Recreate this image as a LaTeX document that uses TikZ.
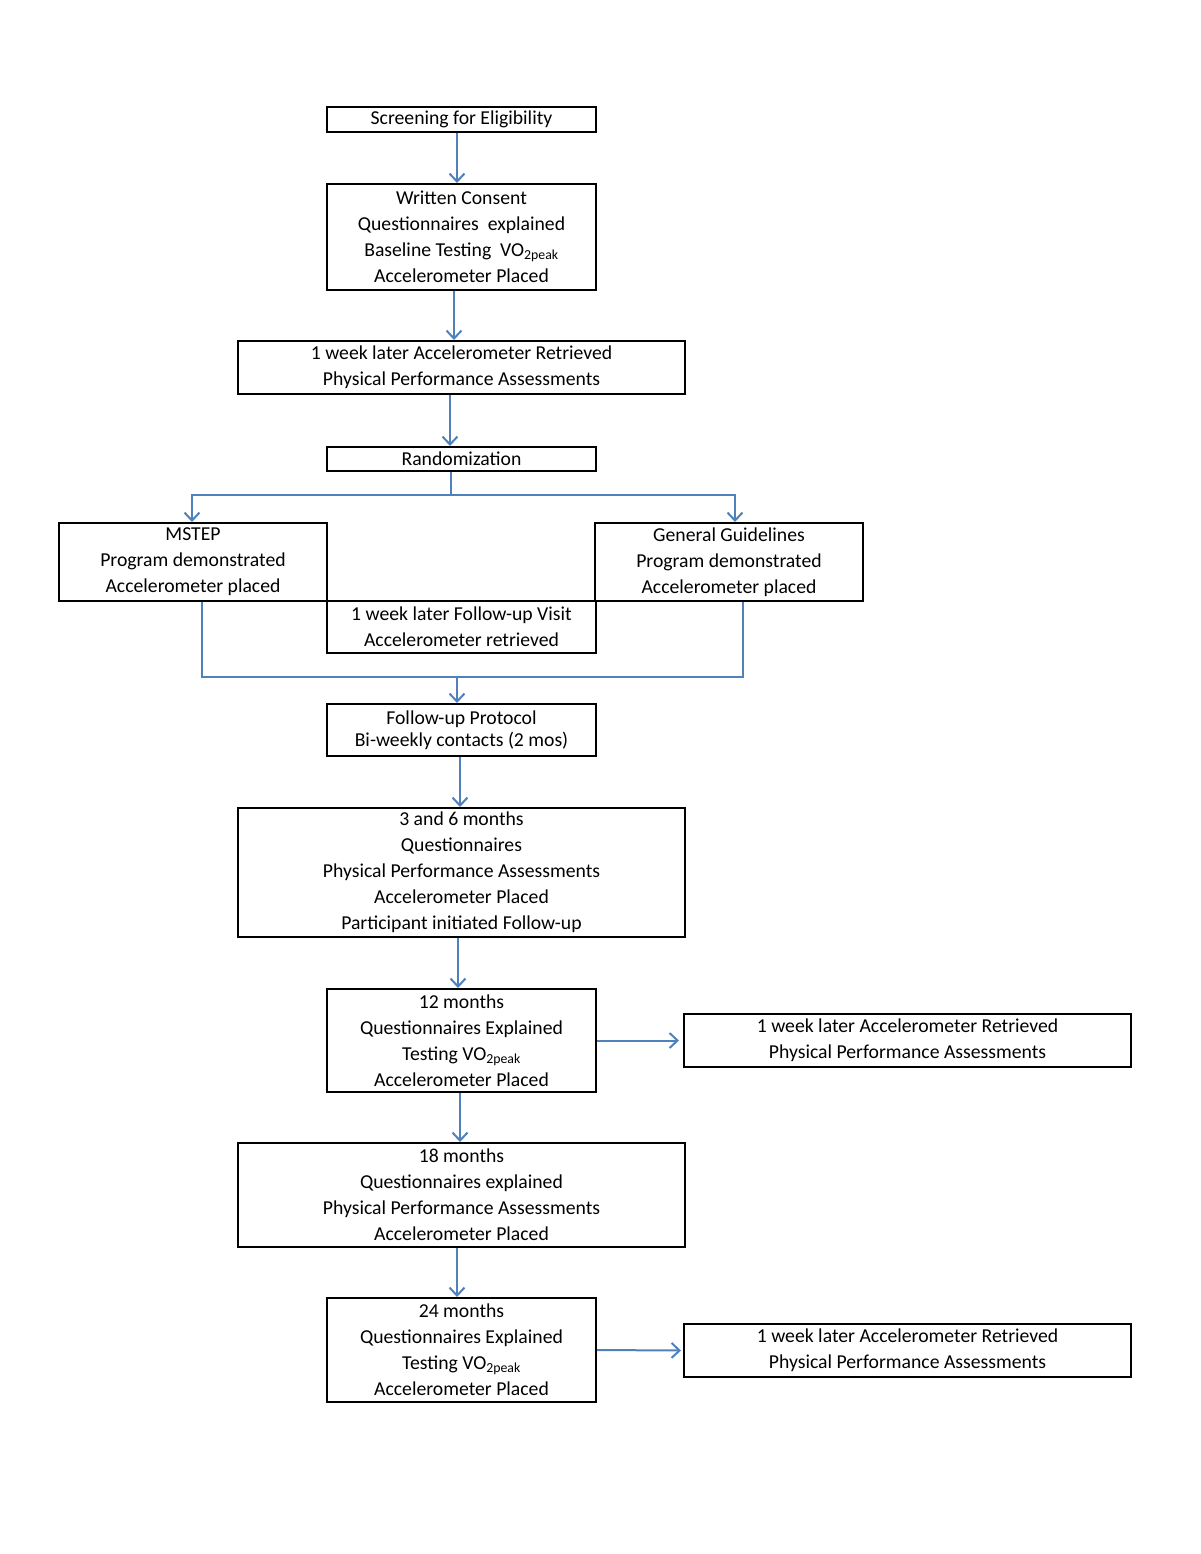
\documentclass[tikz,border=0pt]{standalone}
\usepackage{fontspec}
\setmainfont{Carlito}
\usetikzlibrary{arrows.meta}
\definecolor{arrblue}{HTML}{4F81BD}
\tikzset{
  box/.style={draw=black, line width=2pt, rectangle, inner sep=0pt, align=center,
    font=\fontsize{19.7}{26}\selectfont},
  arr/.style={draw=arrblue, line width=2pt, -{Straight Barb[length=8pt,width=15pt,line width=2pt]}},
  conn/.style={draw=arrblue, line width=1.5pt}
}
\newcommand{\vop}{VO\textsubscript{2peak}}
\begin{document}
\begin{tikzpicture}[x=1pt,y=-1pt]
\useasboundingbox[fill=white] (0,0) rectangle (1200,1554);
% boxes (pixel coords, y down)
\node[box, minimum width=269pt, minimum height=25pt] (screen) at (461.5,119.5) {Screening for Eligibility};
\node[box, minimum width=269pt, minimum height=106pt] (consent) at (461.5,237) {Written Consent\\Questionnaires\ \ explained\\Baseline Testing\ \ \vop\\Accelerometer Placed};
\node[box, minimum width=447pt, minimum height=53pt] (week1) at (461.5,367.5) {1 week later Accelerometer Retrieved\\Physical Performance Assessments};
\node[box, minimum width=269pt, minimum height=24pt] (rand) at (461.5,459) {Randomization};
\node[box, minimum width=268pt, minimum height=78pt] (mstep) at (193,562) {MSTEP\\Program demonstrated\\Accelerometer placed};
\node[box, minimum width=268pt, minimum height=78pt] (gg) at (729,562) {General Guidelines\\Program demonstrated\\Accelerometer placed};
\node[box, minimum width=269pt, minimum height=52pt] (fvisit) at (461.5,627) {1 week later Follow-up Visit\\Accelerometer retrieved};
\node[box, minimum width=269pt, minimum height=52pt] (fprot) at (461.5,730) {Follow-up Protocol\\[-4pt]Bi-weekly contacts (2 mos)};
\node[box, minimum width=447pt, minimum height=129pt] (m36) at (461.5,872.5) {3 and 6 months\\Questionnaires\\Physical Performance Assessments\\Accelerometer Placed\\Participant initiated Follow-up};
\node[box, minimum width=269pt, minimum height=103pt] (m12) at (461.5,1040.5) {12 months\\Questionnaires Explained\\Testing \vop\\Accelerometer Placed};
\node[box, minimum width=447pt, minimum height=53pt] (r12) at (907.5,1040.5) {1 week later Accelerometer Retrieved\\Physical Performance Assessments};
\node[box, minimum width=447pt, minimum height=104pt] (m18) at (461.5,1195) {18 months\\Questionnaires explained\\Physical Performance Assessments\\Accelerometer Placed};
\node[box, minimum width=269pt, minimum height=104pt] (m24) at (461.5,1350) {24 months\\Questionnaires Explained\\Testing \vop\\Accelerometer Placed};
\node[box, minimum width=447pt, minimum height=53pt] (r24) at (907.5,1350.5) {1 week later Accelerometer Retrieved\\Physical Performance Assessments};
% arrows
\draw[arr] ([xshift=-4.5pt]screen.south) -- ([xshift=-4.5pt]consent.north);
\draw[arr] ([xshift=-7.5pt]consent.south) -- ([xshift=-7.5pt]week1.north);
\draw[arr] ([xshift=-11.5pt]week1.south) -- ([xshift=-11.5pt]rand.north);
\coordinate (split) at (451,495);
\draw[conn] (rand.south -| split) -- (split);
\draw[arr] (split) -| ([xshift=-1pt]mstep.north);
\draw[arr] (split) -| ([xshift=6pt]gg.north);
\coordinate (merge) at (457,677);
\draw[conn] ([xshift=9pt]mstep.south) |- (merge);
\draw[conn] ([xshift=14pt]gg.south) |- (merge);
\draw[arr] (merge) -- (fprot.north -| merge);
\draw[arr] ([xshift=-1.5pt]fprot.south) -- ([xshift=-1.5pt]m36.north);
\draw[arr] ([xshift=-3.5pt]m36.south) -- ([xshift=-3.5pt]m12.north);
\draw[arr] (m12.east) -- ([xshift=-4pt]r12.west);
\draw[arr] ([xshift=-1.5pt]m12.south) -- ([xshift=-1.5pt]m18.north);
\draw[arr] ([xshift=-4.5pt]m18.south) -- ([xshift=-4.5pt]m24.north);
\draw[arr] (m24.east) -- ([xshift=-2pt]r24.west);
\end{tikzpicture}
\end{document}
